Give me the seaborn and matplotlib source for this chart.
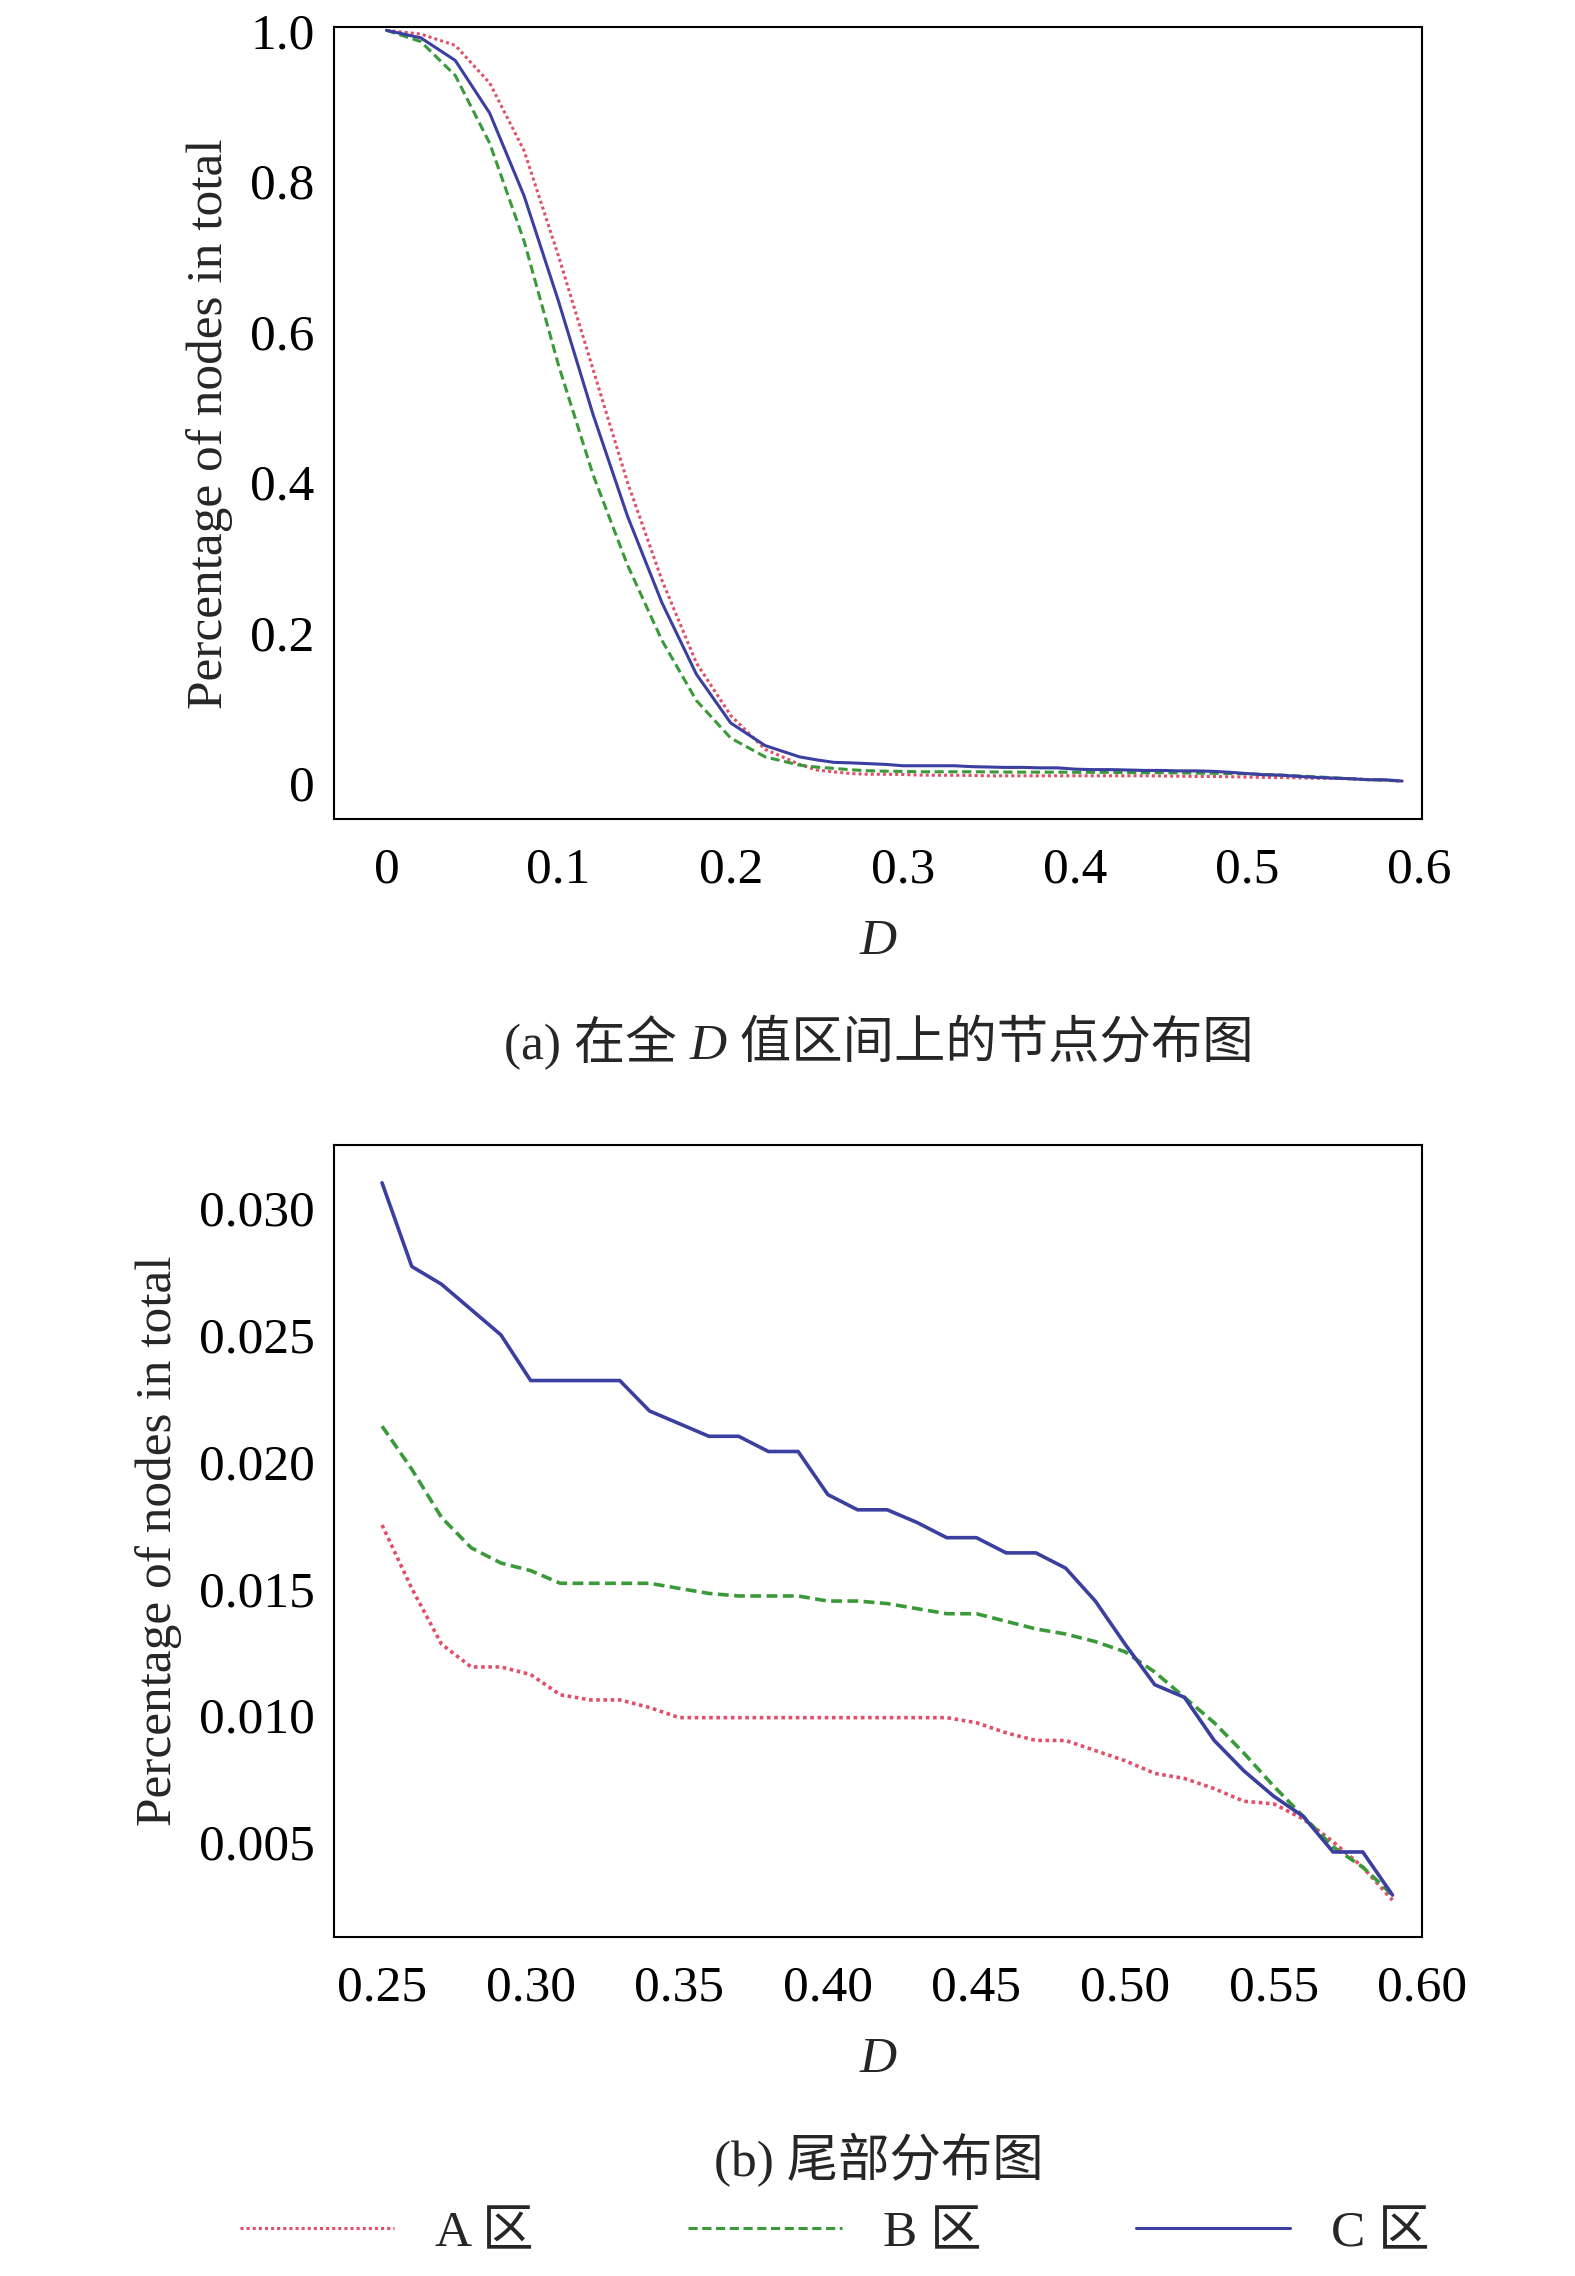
import numpy as np
import pandas as pd
import seaborn as sns
import matplotlib
matplotlib.use("Agg")
import matplotlib.pyplot as plt
from matplotlib.offsetbox import TextArea, HPacker, AnchoredOffsetbox

sns.set_theme(style="white")
plt.rcParams['font.family'] = ['Liberation Serif', 'Noto Sans CJK SC', 'DejaVu Sans']

d_head = [0.0, 0.02, 0.04, 0.06, 0.08, 0.10, 0.12, 0.14, 0.16, 0.18, 0.20, 0.22, 0.24]
a_head = [1.0, 0.995, 0.98, 0.93, 0.84, 0.70, 0.55, 0.40, 0.27, 0.16, 0.09, 0.045, 0.025]
b_head = [1.0, 0.985, 0.94, 0.85, 0.72, 0.555, 0.41, 0.29, 0.19, 0.11, 0.06, 0.035, 0.024]
c_head = [1.0, 0.99, 0.96, 0.89, 0.78, 0.64, 0.49, 0.355, 0.24, 0.145, 0.08, 0.05, 0.035]

d_tail = [round(0.25 + 0.01 * i, 2) for i in range(35)]
c_tail = [0.031, 0.0277, 0.027, 0.026, 0.025, 0.0232, 0.0232, 0.0232, 0.0232, 0.022, 0.0215, 0.021,
          0.021, 0.0204, 0.0204, 0.0187, 0.0181, 0.0181, 0.0176, 0.017, 0.017, 0.0164, 0.0164, 0.0158,
          0.0145, 0.0128, 0.0112, 0.0107, 0.009, 0.0078, 0.0068, 0.006, 0.0046, 0.0046, 0.0029]
b_tail = [0.0214, 0.0197, 0.0178, 0.0166, 0.016, 0.0157, 0.0152, 0.0152, 0.0152, 0.0152, 0.015, 0.0148,
          0.0147, 0.0147, 0.0147, 0.0145, 0.0145, 0.0144, 0.0142, 0.014, 0.014, 0.0137, 0.0134, 0.0132,
          0.0129, 0.0125, 0.0117, 0.0107, 0.0097, 0.0085, 0.0072, 0.006, 0.0048, 0.004, 0.0029]
a_tail = [0.0175, 0.015, 0.0128, 0.0119, 0.0119, 0.0116, 0.0108, 0.0106, 0.0106, 0.0103, 0.0099, 0.0099,
          0.0099, 0.0099, 0.0099, 0.0099, 0.0099, 0.0099, 0.0099, 0.0099, 0.0097, 0.0093, 0.009, 0.009,
          0.0086, 0.0082, 0.0077, 0.0075, 0.0071, 0.0066, 0.0065, 0.0059, 0.005, 0.004, 0.0027]

labels = ["A 区", "B 区", "C 区"]
colors = ["#e0506a", "#3a9a3a", "#3a3fa0"]
styles = [(0, (1, 1)), (0, (3, 1.5)), "-"]

fig = plt.figure(figsize=(15.75, 22.76), dpi=100)
ax1 = fig.add_axes([0.212, 0.640, 0.691, 0.348])
ax2 = fig.add_axes([0.212, 0.149, 0.691, 0.348])

FS = 37
heads = [a_head, b_head, c_head]
tails = [a_tail, b_tail, c_tail]
for lab, col, ls, h, t in zip(labels, colors, styles, heads, tails):
    df1 = pd.DataFrame({"D": d_head + d_tail, "v": h + t})
    sns.lineplot(data=df1, x="D", y="v", ax=ax1, color=col, lw=2.2, linestyle=ls, label=lab)
    df2 = pd.DataFrame({"D": d_tail, "v": t})
    sns.lineplot(data=df2, x="D", y="v", ax=ax2, color=col, lw=2.6, linestyle=ls)

ax1.set_xlim(-0.0305, 0.6017)
ax1.set_ylim(-0.048, 1.004)
ax1.set_xticks([0, 0.1, 0.2, 0.3, 0.4, 0.5, 0.6])
ax1.set_xticklabels(["0", "0.1", "0.2", "0.3", "0.4", "0.5", "0.6"])
ax1.set_yticks([0, 0.2, 0.4, 0.6, 0.8, 1.0])
ax1.set_yticklabels(["0", "0.2", "0.4", "0.6", "0.8", "1.0"])

ax2.set_xlim(0.2338, 0.60)
ax2.set_ylim(0.00125, 0.0325)
ax2.set_xticks([0.25, 0.30, 0.35, 0.40, 0.45, 0.50, 0.55, 0.60])
ax2.set_xticklabels(["0.25", "0.30", "0.35", "0.40", "0.45", "0.50", "0.55", "0.60"])
ax2.set_yticks([0.005, 0.010, 0.015, 0.020, 0.025, 0.030])
ax2.set_yticklabels(["0.005", "0.010", "0.015", "0.020", "0.025", "0.030"])

for ax in (ax1, ax2):
    for s in ax.spines.values():
        s.set_color("black")
        s.set_linewidth(1.5)
    ax.tick_params(direction="in", length=8, width=1.3, labelsize=FS, pad=14, colors="black")
    ax.tick_params(axis="x", pad=20)
    ax.set_xlabel("D", fontsize=FS, style="italic", labelpad=18)
    ax.set_ylabel("Percentage of nodes in total", fontsize=FS, labelpad=12)

h, l = ax1.get_legend_handles_labels()
ax1.get_legend().remove()
fig.legend(h, l, loc="lower center", bbox_to_anchor=(0.53, -0.012), ncol=3, frameon=False,
           fontsize=FS, handlelength=3.0, columnspacing=3)

fam = ['Liberation Serif', 'Noto Sans CJK SC', 'DejaVu Sans']
def caption(parts, y):
    boxes = [TextArea(t, textprops=dict(fontsize=FS, family=fam, style=st)) for t, st in parts]
    pk = HPacker(children=boxes, pad=0, sep=0, align="baseline")
    ab = AnchoredOffsetbox(loc="center", child=pk, pad=0, frameon=False,
                           bbox_to_anchor=(0.558, y), bbox_transform=fig.transFigure, borderpad=0)
    fig.add_artist(ab)

caption([("(a) 在全 ", "normal"), ("D", "italic"), (" 值区间上的节点分布图", "normal")], 0.542)
caption([("(b) 尾部分布图", "normal")], 0.051)

fig.savefig("out.png", dpi=100, facecolor="white")
